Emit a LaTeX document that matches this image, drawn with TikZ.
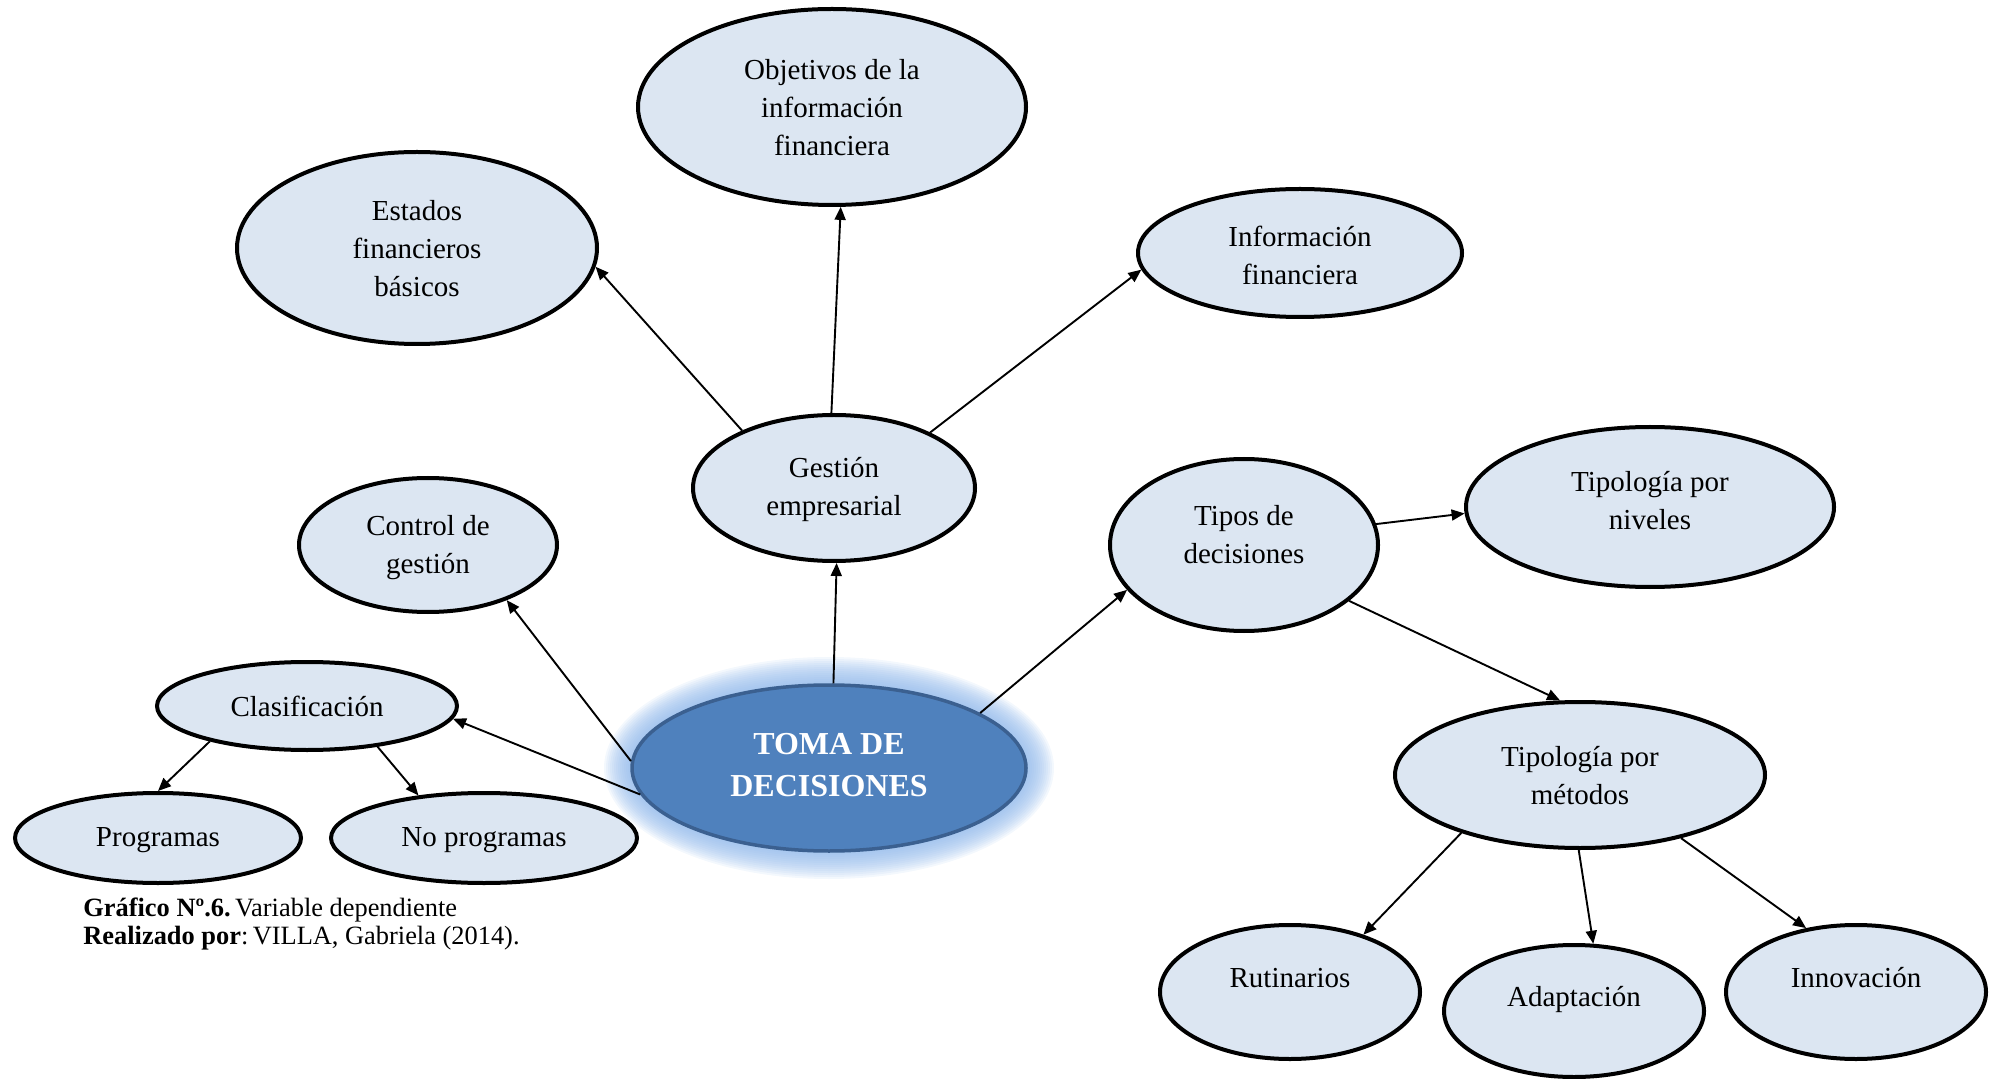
\documentclass[tikz,border=0pt]{standalone}
\usepackage{fontspec}
\setmainfont{Liberation Serif}
\usetikzlibrary{shapes.geometric,arrows.meta}
\definecolor{bubblefill}{HTML}{DCE6F2}
\definecolor{corefill}{HTML}{4F81BD}
\definecolor{coreline}{HTML}{3B6090}
\definecolor{halo}{HTML}{8DB6EA}
\begin{document}
\begin{tikzpicture}[x=0.5pt,y=-0.5pt,
  bubble/.style={ellipse, draw=black, line width=2pt, fill=bubblefill, inner sep=0pt},
  words/.style={align=center, font=\fontsize{14.5}{19}\selectfont, inner sep=0pt},
  caption/.style={anchor=base west, inner sep=0pt, font=\fontsize{13.2}{15}\selectfont},
  link/.style={line width=0.95pt, -{Triangle[length=6.5pt,width=5.5pt]}},
  ]
\path[use as bounding box] (0,0) rectangle (1996,1079);

% soft halo behind the central idea
\coordinate (tc) at (829,768);
\foreach \i in {0,...,14}
  \fill[halo, opacity=0.1] (tc) ellipse [x radius={98.5pt+\i*1pt}, y radius={41.5pt+\i*1pt}];

% ellipses
\node[bubble, minimum width=194pt, minimum height=98pt] (obj)  at (832,107) {};
\node[bubble, minimum width=180pt, minimum height=96pt] (est)  at (417,248) {};
\node[bubble, minimum width=162pt, minimum height=64pt] (inf)  at (1300,253) {};
\node[bubble, minimum width=141pt, minimum height=73pt] (ges)  at (834,488) {};
\node[bubble, minimum width=129pt, minimum height=67pt] (ctl)  at (428,545) {};
\node[bubble, minimum width=134pt, minimum height=86pt] (tip)  at (1244,545) {};
\node[bubble, minimum width=184pt, minimum height=80pt] (niv)  at (1650,507) {};
\node[bubble, minimum width=150pt, minimum height=44pt] (cla)  at (307,706) {};
\node[bubble, minimum width=143pt, minimum height=45pt] (prog) at (158,838) {};
\node[bubble, minimum width=153pt, minimum height=45pt] (nop)  at (484,838) {};
\node[bubble, minimum width=185pt, minimum height=73pt] (met)  at (1580,775) {};
\node[bubble, minimum width=130pt, minimum height=67pt] (rut)  at (1290,992) {};
\node[bubble, minimum width=130pt, minimum height=66pt] (ada)  at (1574,1011) {};
\node[bubble, minimum width=130pt, minimum height=67pt] (inn)  at (1856,992) {};
\node[ellipse, draw=coreline, line width=1.75pt, fill=corefill, inner sep=0pt,
      minimum width=197pt, minimum height=83pt] (toma) at (tc) {};

% texts
\node[words] (objt)  at ([yshift=-0.5pt]obj.center)  {Objetivos de la\\información\\financiera};
\node[words] (estt)  at ([yshift=-0.5pt]est.center)  {Estados\\financieros\\básicos};
\node[words] (inft)  at ([yshift=-1pt]inf.center)  {Información\\financiera};
\node[words] (gest)  at ([yshift=-1pt]ges.center)  {Gestión\\empresarial};
\node[words] (ctlt)  at ([yshift=-1.5pt]ctl.center)  {Control de\\gestión};
\node[words] (tipt)  at ([yshift=5pt]tip.center) {Tipos de\\decisiones};
\node[words] (nivt)  at ([yshift=3pt]niv.center) {Tipología por\\niveles};
\node[words] (clat)  at (cla)  {Clasificación};
\node[words] (progt) at ([yshift=-1pt]prog.center) {Programas};
\node[words] (nopt)  at ([yshift=-1pt]nop.center)  {No programas};
\node[words] (mett)  at ([yshift=-0.5pt]met.center)  {Tipología por\\métodos};
\node[words] (rutt)  at ([yshift=7pt]rut.center) {Rutinarios};
\node[words] (adat)  at ([yshift=6pt]ada.center) {Adaptación};
\node[words] (innt)  at ([yshift=7pt]inn.center) {Innovación};
\node[align=center, inner sep=0pt, text=white,
      font=\fontsize{16}{21}\selectfont\bfseries] (tomat) at ([yshift=1.5pt]toma.center) {TOMA DE\\DECISIONES};

% connectors
\draw[link] (ges.148)  -- (est.-6);
\draw[link] (ges.92)   -- (obj.-85);
\draw[link] (ges.30)   -- (inf.186);
\draw[link] (toma.87)  -- (ges.-88);
\draw[link] (toma.178) -- (ctl.-35);
\draw[link] (toma.188) -- (cla.-5);
\draw[link] (toma.20)  -- (tip.201);
\draw[link] (tip.9)    -- (niv.182);
\draw[link] (tip.-28)  -- (met.105);
\draw[link] (cla.200)  -- (prog.90);
\draw[link] (cla.-30)  -- (nop.147);
\draw[link] (met.206)  -- (rut.38);
\draw[link] (met.-91)  -- (ada.74);
\draw[link] (met.-32)  -- (inn.128);

% caption
\node[caption] (cap1) at (83,916) {\textbf{Gráfico Nº.6.}\,Variable dependiente};
\node[caption] (cap2) at (83,944) {\textbf{Realizado por}:\,VILLA, Gabriela (2014).};
\end{tikzpicture}
\end{document}
